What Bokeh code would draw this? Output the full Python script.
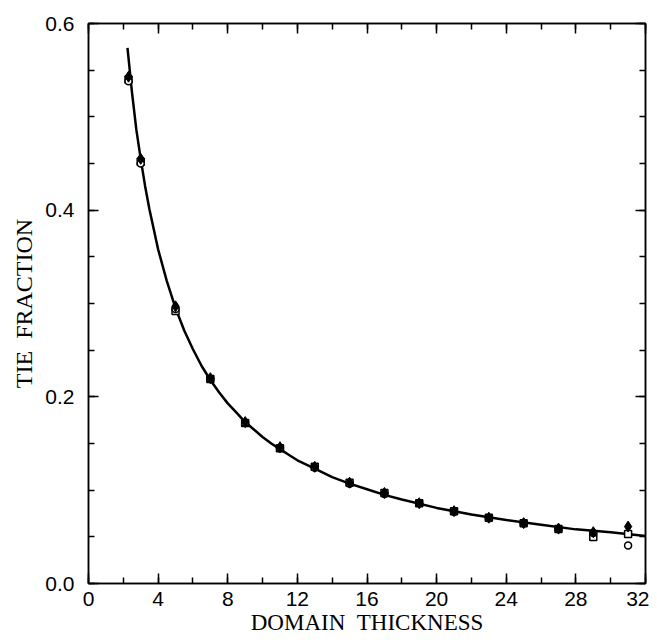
from bokeh.plotting import figure
from bokeh.models import LinearAxis, FixedTicker, Range1d, PrintfTickFormatter, CustomJSTickFormatter
from bokeh.embed import file_html
from bokeh.resources import INLINE

# Fitted curve
curve_x = [2.24, 2.5, 2.75, 3, 3.25, 3.5, 4, 4.5, 5, 5.5, 6, 6.5, 7, 7.5, 8, 8.5, 9, 9.5, 10, 10.5, 11, 11.5, 12, 13, 14, 15, 16, 17, 18, 20, 22, 24, 26, 28, 30, 32]
curve_y = [0.574, 0.526, 0.486, 0.455, 0.426, 0.401, 0.358, 0.324, 0.295, 0.271, 0.251, 0.233, 0.218, 0.205, 0.193, 0.183, 0.173, 0.165, 0.157, 0.150, 0.144, 0.138, 0.132, 0.123, 0.114, 0.107, 0.101, 0.095, 0.090, 0.081, 0.074, 0.068, 0.063, 0.058, 0.055, 0.051]

# Simulation data (three overlapping series)
pts_x = [2.3, 3, 5, 7, 9, 11, 13, 15, 17, 19, 21, 23, 25, 27, 29, 31]
filled_y = [0.543, 0.455, 0.297, 0.220, 0.173, 0.146, 0.125, 0.108, 0.097, 0.086, 0.0775, 0.0705, 0.0647, 0.0588, 0.0550, 0.0610]
square_y = [0.540, 0.452, 0.292, 0.219, 0.172, 0.145, 0.125, 0.108, 0.097, 0.086, 0.0775, 0.0705, 0.0645, 0.0585, 0.0497, 0.0530]
circle_y = [0.538, 0.450, 0.294, 0.219, 0.172, 0.145, 0.124, 0.107, 0.096, 0.086, 0.0770, 0.0700, 0.0645, 0.0585, 0.0540, 0.0407]

x_major = [0, 4, 8, 12, 16, 20, 24, 28, 32]
x_minor = [float(v) for v in range(0, 33, 2)]
y_major = [0.0, 0.2, 0.4, 0.6]
y_minor = [round(i * 0.05, 2) for i in range(13)]

p = figure(width=649, height=640, output_backend="svg", toolbar_location=None,
           x_range=Range1d(0, 32), y_range=Range1d(0, 0.6),
           min_border_left=88, min_border_right=4, min_border_top=23, min_border_bottom=57)
p.background_fill_color = "white"
p.border_fill_color = "white"
p.outline_line_color = "black"
p.outline_line_width = 1.5
p.xgrid.visible = False
p.ygrid.visible = False

def style_axis(ax, major, minor, show_labels):
    ax.ticker = FixedTicker(ticks=major, minor_ticks=minor)
    ax.axis_line_color = "black"
    ax.axis_line_width = 1.5
    ax.major_tick_in = 10
    ax.major_tick_out = 0
    ax.minor_tick_in = 6
    ax.minor_tick_out = 0
    ax.major_tick_line_color = "black"
    ax.major_tick_line_width = 1.5
    ax.minor_tick_line_color = "black"
    ax.minor_tick_line_width = 1.5
    ax.major_label_text_font = "Liberation Sans"
    ax.major_label_text_font_size = "21px"
    ax.major_label_text_color = "black"
    if not show_labels:
        ax.formatter = CustomJSTickFormatter(code="return '';")
        ax.major_label_standoff = 0

xa = p.xaxis[0]
style_axis(xa, x_major, x_minor, True)
xa.axis_label = "DOMAIN\u00a0\u00a0THICKNESS"
xa.axis_label_text_font = "Liberation Serif"
xa.axis_label_text_font_size = "23px"
xa.axis_label_text_font_style = "normal"
xa.axis_label_text_color = "black"
xa.axis_label_standoff = 1
xa.major_label_standoff = 8

ya = p.yaxis[0]
style_axis(ya, y_major, y_minor, True)
ya.formatter = PrintfTickFormatter(format="%.1f")
ya.axis_label = "TIE\u00a0\u00a0FRACTION"
ya.axis_label_text_font = "Liberation Serif"
ya.axis_label_text_font_size = "24px"
ya.axis_label_text_font_style = "normal"
ya.axis_label_text_color = "black"
ya.axis_label_standoff = 5
ya.major_label_standoff = 14

top = LinearAxis()
style_axis(top, x_major, x_minor, False)
p.add_layout(top, "above")
right = LinearAxis()
style_axis(right, y_major, y_minor, False)
p.add_layout(right, "right")

p.line(curve_x, curve_y, line_color="black", line_width=2.5)
p.scatter(pts_x, square_y, marker="square", size=7, fill_color="white", line_color="black", line_width=1.5)
p.scatter(pts_x, circle_y, marker="circle", size=7, fill_color="white", line_color="black", line_width=1.5)
p.scatter(pts_x, filled_y, marker="diamond", size=11, fill_color="black", line_color="black")

open("out.html", "w").write(file_html(p, INLINE))
